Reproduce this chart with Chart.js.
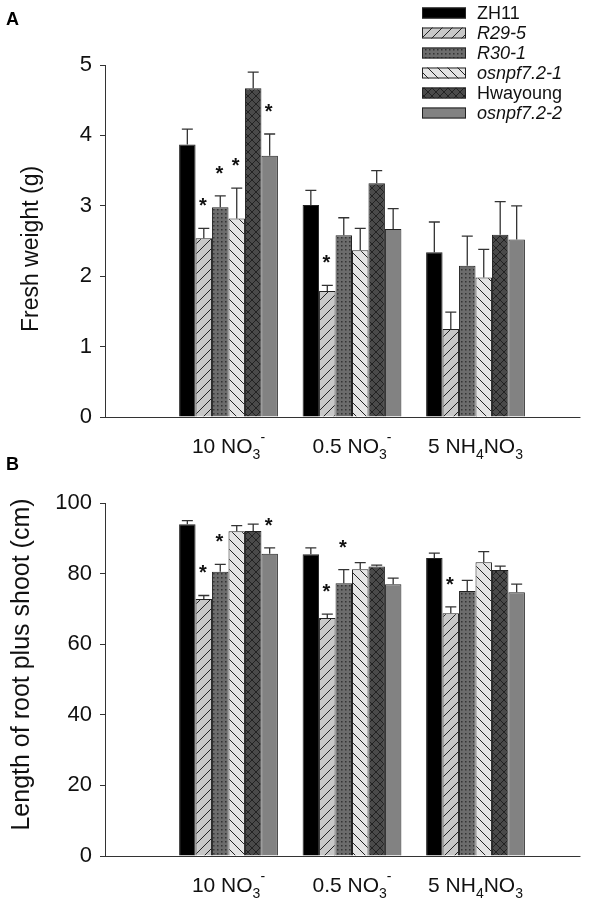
<!DOCTYPE html>
<html>
<head>
<meta charset="utf-8">
<script src="https://cdn.jsdelivr.net/npm/chart.js@4"></script>
<style>
body { margin: 0; background: #fff; }
#wrap { position: relative; width: 604px; height: 909px; }
canvas { position: absolute; left: 0; }
#chartA { top: 0; }
#chartB { top: 460px; }
.tag { position: absolute; font: bold 18px "Liberation Sans", Arial, sans-serif; color: #000; }
</style>
</head>
<body>
<div id="wrap">
  <canvas id="chartA" width="604" height="460"></canvas>
  <canvas id="chartB" width="604" height="449"></canvas>
  <div class="tag" style="left:6px;top:9px">A</div>
  <div class="tag" style="left:6px;top:454px">B</div>
</div>
<script>
// ---- data ----
const categories = ['10 NO₃⁻', '0.5 NO₃⁻', '5 NH₄NO₃'];
const lines = ['ZH11', 'R29-5', 'R30-1', 'osnpf7.2-1', 'Hwayoung', 'osnpf7.2-2'];
const italicLines = [false, true, true, true, false, true];

// A : fresh weight (g), one row per line
const freshWeight = [
  [3.87, 3.01, 2.34],
  [2.54, 1.79, 1.25],
  [2.98, 2.58, 2.15],
  [2.82, 2.37, 1.98],
  [4.67, 3.32, 2.59],
  [3.71, 2.67, 2.52]
];
const freshWeightErr = [
  [0.22, 0.21, 0.43],
  [0.14, 0.08, 0.24],
  [0.16, 0.25, 0.42],
  [0.43, 0.31, 0.40],
  [0.23, 0.18, 0.47],
  [0.31, 0.29, 0.48]
];
const freshWeightStar = [
  [0, 0, 0],
  [1, 1, 0],
  [1, 0, 0],
  [1, 0, 0],
  [0, 0, 0],
  [1, 0, 0]
];

// B : length of root plus shoot (cm)
const lengthCm = [
  [94.0, 85.5, 84.4],
  [72.8, 67.4, 68.8],
  [80.5, 77.3, 75.1],
  [92.0, 81.2, 83.2],
  [92.1, 82.0, 81.0],
  [85.6, 77.0, 74.7]
];
const lengthErr = [
  [1.0, 1.8, 1.4],
  [1.0, 1.1, 1.8],
  [2.1, 3.8, 3.0],
  [1.6, 1.9, 3.0],
  [1.9, 0.4, 1.1],
  [1.7, 1.7, 2.3]
];
const lengthStar = [
  [0, 0, 0],
  [1, 1, 1],
  [1, 1, 0],
  [0, 0, 0],
  [0, 0, 0],
  [1, 0, 0]
];

const ticksA = [0, 1, 2, 3, 4, 5];
const ticksB = [0, 20, 40, 60, 80, 100];

// ---- patterns ----
const FONT = '"Liberation Sans", Arial, sans-serif';
Chart.defaults.font.family = FONT;
Chart.defaults.color = '#111';

function makePattern(size, bg, draw) {
  const c = document.createElement('canvas');
  c.width = c.height = size;
  const g = c.getContext('2d');
  g.fillStyle = bg;
  g.fillRect(0, 0, size, size);
  draw(g, size);
  return g.createPattern(c, 'repeat');
}
function slash(g, s) {
  g.strokeStyle = '#222'; g.lineWidth = 1;
  g.beginPath();
  g.moveTo(0, s); g.lineTo(s, 0);
  g.moveTo(-1, 1); g.lineTo(1, -1);
  g.moveTo(s - 1, s + 1); g.lineTo(s + 1, s - 1);
  g.stroke();
}
function backslash(g, s) {
  g.strokeStyle = '#222'; g.lineWidth = 1;
  g.beginPath();
  g.moveTo(0, 0); g.lineTo(s, s);
  g.moveTo(s - 1, -1); g.lineTo(s + 1, 1);
  g.moveTo(-1, s - 1); g.lineTo(1, s + 1);
  g.stroke();
}
const fills = [
  '#000000',
  makePattern(10, '#c8c8c8', slash),
  makePattern(4, '#6c6c6c', (g) => { g.fillStyle = '#333'; g.fillRect(1, 1, 1.5, 1.5); }),
  makePattern(10, '#e4e4e4', backslash),
  makePattern(8, '#4a4a4a', (g, s) => { slash(g, s); backslash(g, s); }),
  '#828282'
];

// ---- plugins ----
function errPlugin(errs, stars) {
  return {
    id: 'errBars',
    afterDatasetsDraw(chart) {
      const ctx = chart.ctx, y = chart.scales.y;
      chart.data.datasets.forEach((ds, i) => {
        chart.getDatasetMeta(i).data.forEach((bar, j) => {
          const v = ds.data[j];
          if (v == null) return;
          const top = y.getPixelForValue(v + errs[i][j - 1]);
          ctx.save();
          ctx.strokeStyle = '#333';
          ctx.lineWidth = 1.3;
          ctx.beginPath();
          ctx.moveTo(bar.x, bar.y);
          ctx.lineTo(bar.x, top);
          ctx.moveTo(bar.x - 5.5, top);
          ctx.lineTo(bar.x + 5.5, top);
          ctx.stroke();
          if (stars[i][j - 1]) {
            ctx.fillStyle = '#111';
            ctx.font = 'bold 20px ' + FONT;
            ctx.textAlign = 'center';
            ctx.textBaseline = 'alphabetic';
            ctx.fillText('*', bar.x - 1, top - 16);
          }
          ctx.restore();
        });
      });
    }
  };
}

// y title drawn by hand so it can sit slightly off the chart-area centre
function yTitlePlugin(text, size, cx, dy) {
  return {
    id: 'yTitle',
    afterDraw(chart) {
      const ctx = chart.ctx, a = chart.chartArea;
      ctx.save();
      ctx.translate(cx, (a.top + a.bottom) / 2 + dy);
      ctx.rotate(-Math.PI / 2);
      ctx.font = size + 'px ' + FONT;
      ctx.fillStyle = '#111';
      ctx.textAlign = 'center';
      ctx.textBaseline = 'middle';
      ctx.fillText(text, 0, 0);
      ctx.restore();
    }
  };
}

const subMap = { '₃': '3', '₄': '4' };
const supMap = { '⁻': '-' };
const xLabelPlugin = {
  id: 'xLabels',
  afterDraw(chart) {
    const ctx = chart.ctx, x = chart.scales.x, area = chart.chartArea;
    // axis line
    ctx.save();
    ctx.strokeStyle = '#333';
    ctx.lineWidth = 1;
    ctx.beginPath();
    ctx.moveTo(area.left, area.bottom + 0.5);
    ctx.lineTo(x.getPixelForValue(3.85), area.bottom + 0.5);
    ctx.stroke();
    // category labels with sub/superscripts
    const big = '21px ' + FONT, small = '14px ' + FONT;
    const yMid = area.bottom + 30;
    ctx.fillStyle = '#111';
    ctx.textBaseline = 'middle';
    ctx.textAlign = 'left';
    categories.forEach((lab, k) => {
      const parts = [...lab].map(ch => {
        if (subMap[ch]) return { t: subMap[ch], f: small, dy: 8 };
        if (supMap[ch]) return { t: supMap[ch], f: small, dy: -9 };
        return { t: ch, f: big, dy: 0 };
      });
      let w = 0;
      parts.forEach(p => { ctx.font = p.f; p.w = ctx.measureText(p.t).width; w += p.w; });
      let px = x.getPixelForValue(k + 1) - w / 2;
      parts.forEach(p => { ctx.font = p.f; ctx.fillText(p.t, px, yMid + p.dy); px += p.w; });
    });
    ctx.restore();
  }
};

const legendPlugin = {
  id: 'sideLegend',
  afterDraw(chart) {
    const ctx = chart.ctx;
    ctx.save();
    chart.data.datasets.forEach((ds, i) => {
      const cy = 13 + i * 20;
      ctx.fillStyle = ds.backgroundColor;
      ctx.fillRect(422, cy - 5.5, 44, 11);
      ctx.strokeStyle = '#222';
      ctx.lineWidth = 1;
      ctx.strokeRect(422.5, cy - 5, 43, 10);
      ctx.fillStyle = '#111';
      ctx.font = (italicLines[i] ? 'italic ' : '') + '18px ' + FONT;
      ctx.textBaseline = 'middle';
      ctx.fillText(ds.label, 477, cy + 1);
    });
    ctx.restore();
  }
};

// ---- charts ----
function buildChart(id, values, errs, stars, ticks, topPad, xHeight, extra) {
  const datasets = lines.map((name, i) => ({
    label: name,
    data: [null, ...values[i], null],
    backgroundColor: fills[i],
    borderColor: '#222',
    borderWidth: 1,
    categoryPercentage: 0.8,
    barPercentage: 1.0
  }));
  return new Chart(document.getElementById(id), {
    type: 'bar',
    data: { labels: ['', ...categories, ''], datasets: datasets },
    options: {
      responsive: false,
      animation: false,
      layout: { padding: { top: topPad, right: 5, left: 0, bottom: 0 } },
      plugins: { legend: { display: false }, tooltip: { enabled: false } },
      scales: {
        x: {
          offset: false,
          grid: { display: false },
          border: { display: false },
          ticks: { display: false },
          afterFit: (s) => { s.height = xHeight; }
        },
        y: {
          min: ticks[0],
          max: ticks[ticks.length - 1],
          afterBuildTicks: (s) => { s.ticks = ticks.map(v => ({ value: v })); },
          grid: { drawOnChartArea: false, drawTicks: true, tickLength: 5, color: '#333' },
          border: { color: '#333', width: 1 },
          ticks: { font: { size: 22 }, color: '#111', padding: 8 },
          afterFit: (s) => { s.width = 105; }
        }
      }
    },
    plugins: [errPlugin(errs, stars), xLabelPlugin].concat(extra)
  });
}

buildChart('chartA', freshWeight, freshWeightErr, freshWeightStar, ticksA, 65, 43,
  [legendPlugin, yTitlePlugin('Fresh weight (g)', 23, 32, 8)]);
buildChart('chartB', lengthCm, lengthErr, lengthStar, ticksB, 43, 53,
  [yTitlePlugin('Length of root plus shoot (cm)', 25, 22, -15)]);
</script>
</body>
</html>
